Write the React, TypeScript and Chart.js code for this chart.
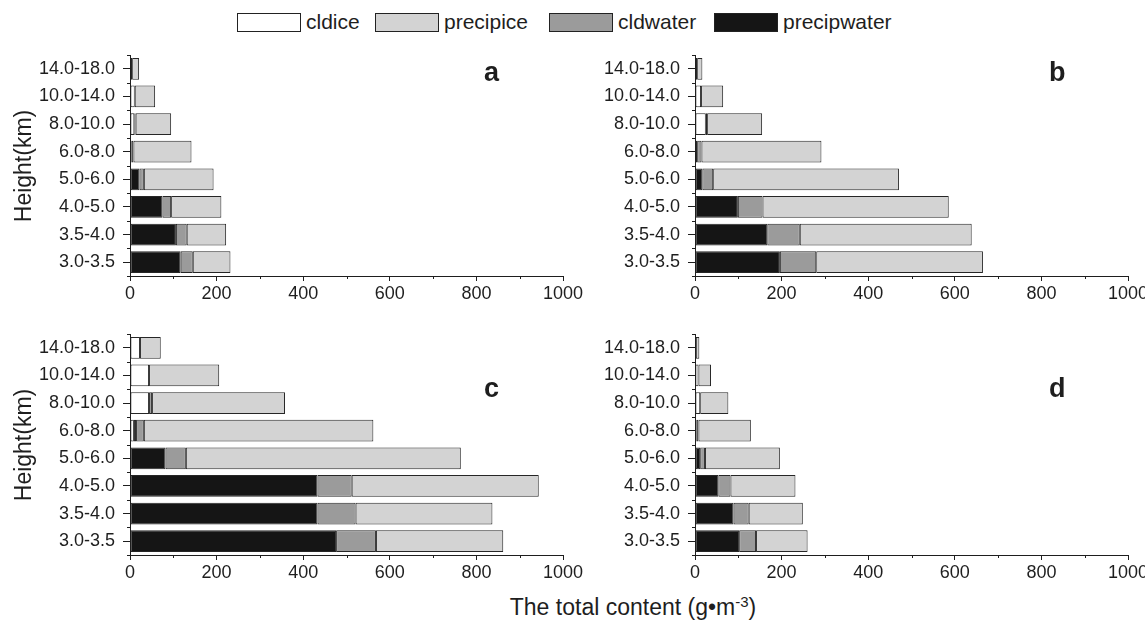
import React, { useEffect, useRef } from "react";
import { Chart, registerables } from "chart.js";
Chart.register(...registerables);

// ---------- data ----------
const heights = ["14.0-18.0", "10.0-14.0", "8.0-10.0", "6.0-8.0", "5.0-6.0", "4.0-5.0", "3.5-4.0", "3.0-3.5"];
const seriesNames = ["cldice", "precipwater", "cldwater", "precipice"];
const legendOrder = ["cldice", "precipice", "cldwater", "precipwater"];
const xTickValues = [0, 200, 400, 600, 800, 1000];
const xMinorValues = [100, 300, 500, 700, 900];

// panel a
const aCldice = [5, 11, 10, 0, 0, 0, 0, 0];
const aPrecipwater = [0, 0, 3, 3, 22, 75, 106, 117];
const aCldwater = [0, 0, 0, 5, 10, 20, 25, 28];
const aPrecipice = [16, 47, 82, 134, 161, 116, 91, 87];
// panel b
const bCldice = [5, 14, 25, 5, 0, 0, 0, 0];
const bPrecipwater = [0, 0, 3, 0, 17, 99, 167, 196];
const bCldwater = [0, 0, 0, 10, 25, 57, 75, 84];
const bPrecipice = [12, 51, 127, 277, 429, 430, 397, 385];
// panel c
const cCldice = [23, 44, 44, 9, 0, 0, 0, 0];
const cPrecipwater = [0, 0, 0, 5, 82, 433, 433, 476];
const cCldwater = [0, 0, 7, 18, 47, 79, 88, 92];
const cPrecipice = [48, 162, 307, 530, 635, 432, 316, 294];
// panel d
const dCldice = [2, 8, 12, 0, 0, 0, 0, 0];
const dPrecipwater = [0, 0, 0, 3, 12, 54, 89, 102];
const dCldwater = [0, 0, 0, 5, 11, 28, 35, 39];
const dPrecipice = [8, 29, 65, 121, 173, 150, 125, 119];

const panelLetters = ["a", "b", "c", "d"];

// ---------- styles ----------
const FONT = "'Liberation Sans', Arial, Helvetica, sans-serif";
const INK = "#1e1e1e";
const seriesColors: Record<string, string> = {
  cldice: "#ffffff",
  precipwater: "#151515",
  cldwater: "#9b9b9b",
  precipice: "#d3d3d3",
};

const minorTicks = {
  id: "minorTicks",
  afterDraw(chart: any) {
    const ctx = chart.ctx;
    const x = chart.scales.x;
    const y = chart.scales.y;
    const area = chart.chartArea;
    ctx.save();
    ctx.strokeStyle = INK;
    ctx.lineWidth = 1;
    ctx.beginPath();
    xMinorValues.forEach((v) => {
      const px = Math.round(x.getPixelForValue(v)) + 0.5;
      ctx.moveTo(px, area.bottom);
      ctx.lineTo(px, area.bottom + 3);
    });
    const n = heights.length;
    for (let i = 0; i <= n; i++) {
      const py = Math.round(y.getPixelForValue(i - 0.5)) + 0.5;
      ctx.moveTo(area.left, py);
      ctx.lineTo(area.left - 3, py);
    }
    ctx.stroke();
    ctx.restore();
  },
};

type PanelProps = { series: number[][]; left: number; top: number };

const CANVAS_W = 588;
const CANVAS_H = 266;

function Panel({ series, left, top }: PanelProps) {
  const ref = useRef<HTMLCanvasElement | null>(null);
  useEffect(() => {
    if (!ref.current) return;
    const chart = new Chart(ref.current, {
      type: "bar",
      data: {
        labels: heights,
        datasets: seriesNames.map((name, i) => ({
          label: name,
          data: series[i].map((v) => (v === 0 ? null : v)),
          backgroundColor: seriesColors[name],
          borderColor: "#262626",
          borderWidth: 1,
          borderSkipped: false,
          barPercentage: 0.79,
          categoryPercentage: 1,
        })),
      },
      options: {
        indexAxis: "y",
        animation: false,
        responsive: false,
        maintainAspectRatio: false,
        layout: { padding: { top: 10, right: 25, left: 0, bottom: 0 } },
        plugins: { legend: { display: false }, tooltip: { enabled: false } },
        scales: {
          x: {
            stacked: true,
            min: 0,
            max: 1000,
            afterBuildTicks: (s: any) => {
              s.ticks = xTickValues.map((v) => ({ value: v }));
            },
            afterFit: (s: any) => {
              s.height = 35;
              s.paddingLeft = 0;
              s.paddingRight = 0;
            },
            grid: { drawOnChartArea: false, tickLength: 5, color: INK, lineWidth: 1 },
            border: { color: INK, width: 1 },
            ticks: {
              font: { family: FONT, size: 18 },
              color: INK,
              padding: 2,
              maxRotation: 0,
              callback: (v: any) => String(v),
            },
          },
          y: {
            stacked: true,
            afterFit: (s: any) => {
              s.width = 130;
              s.paddingTop = 0;
              s.paddingBottom = 0;
            },
            grid: { offset: false, drawOnChartArea: false, tickLength: 7, color: INK, lineWidth: 1 },
            border: { color: INK, width: 1 },
            ticks: { font: { family: FONT, size: 18 }, color: INK, padding: 8 },
          },
        },
      } as any,
      plugins: [minorTicks],
    });
    return () => chart.destroy();
  }, [series]);
  return (
    <canvas
      ref={ref}
      width={CANVAS_W}
      height={CANVAS_H}
      style={{ position: "absolute", left, top, width: CANVAS_W, height: CANVAS_H, display: "block" }}
    />
  );
}

const panelSeries = [
  [aCldice, aPrecipwater, aCldwater, aPrecipice],
  [bCldice, bPrecipwater, bCldwater, bPrecipice],
  [cCldice, cPrecipwater, cCldwater, cPrecipice],
  [dCldice, dPrecipwater, dCldwater, dPrecipice],
];
// chart area top-left corners: (130,55) (695,55) (130,334) (695,334)
const panelPos = [
  { left: 0, top: 45 },
  { left: 565, top: 45 },
  { left: 0, top: 324 },
  { left: 565, top: 324 },
];
const letterPos = [
  { left: 484, top: 59 },
  { left: 1049, top: 59 },
  { left: 484, top: 375 },
  { left: 1049, top: 375 },
];
const legendBoxLeft = [237, 375, 549, 714];

export default function App() {
  return (
    <div
      style={{
        position: "fixed",
        left: 0,
        top: 0,
        width: 1145,
        height: 621,
        background: "#ffffff",
        overflow: "hidden",
        fontFamily: FONT,
        color: INK,
      }}
    >
      {legendOrder.map((name, i) => (
        <React.Fragment key={name}>
          <div
            style={{
              position: "absolute",
              left: legendBoxLeft[i],
              top: 13,
              width: 62,
              height: 17,
              background: seriesColors[name],
              border: "1px solid #222",
            }}
          />
          <div
            style={{
              position: "absolute",
              left: legendBoxLeft[i] + 69,
              top: 9,
              fontSize: 21,
              lineHeight: "26px",
              whiteSpace: "nowrap",
            }}
          >
            {name}
          </div>
        </React.Fragment>
      ))}
      {panelSeries.map((s, i) => (
        <Panel key={i} series={s} left={panelPos[i].left} top={panelPos[i].top} />
      ))}
      {panelLetters.map((l, i) => (
        <div
          key={l}
          style={{
            position: "absolute",
            left: letterPos[i].left,
            top: letterPos[i].top,
            fontSize: 27,
            fontWeight: "bold",
            lineHeight: "27px",
          }}
        >
          {l}
        </div>
      ))}
      {[166, 445].map((cy, i) => (
        <div
          key={i}
          style={{
            position: "absolute",
            left: 23 - 80,
            top: cy - 14,
            width: 160,
            height: 28,
            lineHeight: "28px",
            textAlign: "center",
            fontSize: 23,
            transform: "rotate(-90deg)",
            whiteSpace: "nowrap",
          }}
        >
          Height(km)
        </div>
      ))}
      <div
        style={{
          position: "absolute",
          left: 433,
          top: 593,
          width: 400,
          textAlign: "center",
          fontSize: 23,
          lineHeight: "28px",
          whiteSpace: "nowrap",
        }}
      >
        The total content (g<span>•</span>m
        <sup style={{ fontSize: 15, verticalAlign: "top", position: "relative", top: -5 }}>-3</sup>)
      </div>
    </div>
  );
}
